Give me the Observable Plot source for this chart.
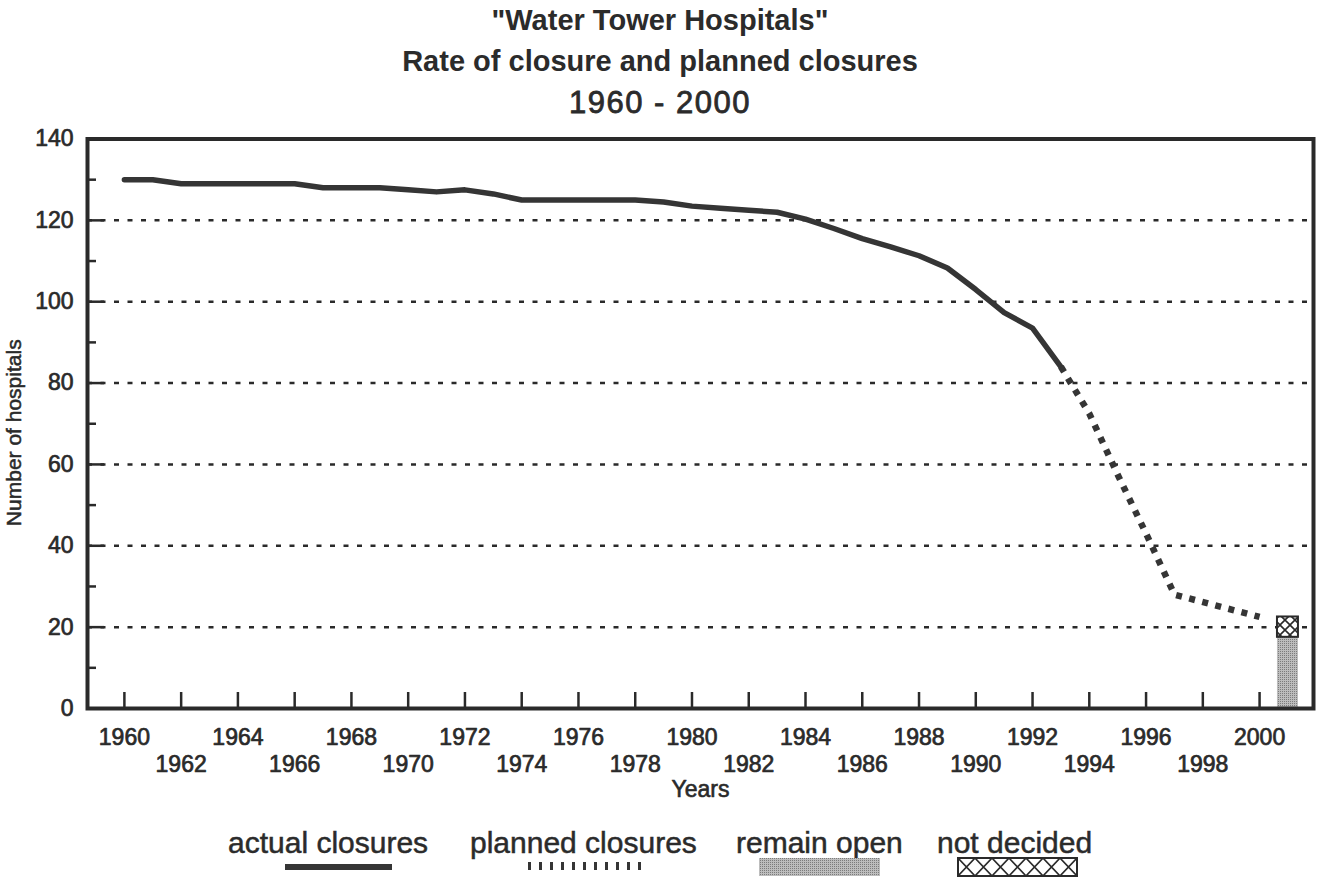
<!DOCTYPE html>
<html>
<head>
<meta charset="utf-8">
<script src="https://cdn.jsdelivr.net/npm/d3@7"></script>
<script src="https://cdn.jsdelivr.net/npm/@observablehq/plot@0.6"></script>
<style>
  html, body { margin: 0; padding: 0; background: #fff; }
  body { width: 1328px; height: 882px; position: relative; overflow: hidden;
         font-family: "Liberation Sans", Arial, Helvetica, sans-serif; color: #2b2b2b; }
  .title { position: absolute; left: -4px; width: 1328px; text-align: center; line-height: 1; white-space: nowrap; }
  #chart { position: absolute; left: 0; top: 125px; }
  .lg { position: absolute; font-size: 30px; line-height: 1; white-space: nowrap; top: 828px; -webkit-text-stroke: 0.5px #2b2b2b; }
  #swatches { position: absolute; left: 0; top: 850px; }
</style>
</head>
<body>
<div id="t1" class="title" style="top:6px;font-size:29px;font-weight:bold;"></div>
<div id="t2" class="title" style="top:47px;font-size:29px;font-weight:bold;"></div>
<div id="t3" class="title" style="top:87px;font-size:31px;letter-spacing:1.5px;-webkit-text-stroke:0.8px #2b2b2b;"></div>
<div id="chart"></div>
<div id="legend"></div>
<script>
// ---- text ----
const titleLines = ['"Water Tower Hospitals"', "Rate of closure and planned closures", "1960 - 2000"];
const xLabel = "Years";
const yLabel = "Number of hospitals";
const legendLabels = ["actual closures", "planned closures", "remain open", "not decided"];

// ---- data ----
const actualYears = [1960, 1961, 1962, 1963, 1964, 1965, 1966, 1967, 1968, 1969,
                     1970, 1971, 1972, 1973, 1974, 1975, 1976, 1977, 1978, 1979,
                     1980, 1981, 1982, 1983, 1984, 1985, 1986, 1987, 1988, 1989,
                     1990, 1991, 1992, 1993];
const actualCount = [130, 130, 129, 129, 129, 129, 129, 128, 128, 128,
                     127.5, 127, 127.5, 126.5, 125, 125, 125, 125, 125, 124.5,
                     123.5, 123, 122.5, 122, 120.3, 118, 115.5, 113.5, 111.3, 108.3,
                     103, 97.3, 93.5, 84];
const plannedYears = [1993, 1994, 1995, 1996, 1997, 2000];
const plannedCount = [84, 72.5, 57.5, 43, 28, 22.5];
const barYears = [2001];
const remainOpen = [17.5];
const notDecided = [5];

// ---- ticks ----
const yTicks = [0, 20, 40, 60, 80, 100, 120, 140];
const yMinorTicks = [10, 30, 50, 70, 90, 110, 130];
const gridTicks = [20, 40, 60, 80, 100, 120];
const xTicks = [1960, 1962, 1964, 1966, 1968, 1970, 1972, 1974, 1976, 1978, 1980,
                1982, 1984, 1986, 1988, 1990, 1992, 1994, 1996, 1998, 2000];
const xLabelsRow1 = [1960, 1964, 1968, 1972, 1976, 1980, 1984, 1988, 1992, 1996, 2000];
const xLabelsRow2 = [1962, 1966, 1970, 1974, 1978, 1982, 1986, 1990, 1994, 1998];

// ---- tables ----
const actual = actualYears.map((year, i) => ({year, count: actualCount[i]}));
const planned = plannedYears.map((year, i) => ({year, count: plannedCount[i]}));
const bars = barYears.map((year, i) => ({year, open: remainOpen[i], undecided: notDecided[i]}));

document.getElementById("t1").textContent = titleLines[0];
document.getElementById("t2").textContent = titleLines[1];
document.getElementById("t3").textContent = titleLines[2];

const ink = "#2a2a2a";
const lineInk = "#353535";
const barHalf = 0.5;
const tickText = {fill: ink, textStroke: ink, textStrokeWidth: 0.7, fontSize: 23};

const chart = Plot.plot({
  width: 1328,
  height: 685,
  marginTop: 13.5,
  marginBottom: 102,
  marginLeft: 87,
  marginRight: 15,
  x: {domain: [1958.7, 2001.9]},
  y: {domain: [0, 140]},
  style: {fontFamily: '"Liberation Sans", Arial, Helvetica, sans-serif', fontSize: "23px", color: ink, background: "transparent", overflow: "visible"},
  marks: [
    Plot.gridY(gridTicks, {stroke: ink, strokeOpacity: 1, strokeWidth: 2.5, strokeDasharray: "5 8.5"}),
    Plot.rect(bars, {x1: d => d.year - barHalf, x2: d => d.year + barHalf, insetLeft: 3.7, insetRight: 3.7,
                     y1: 0, y2: "open", fill: "url(#stipple)"}),
    Plot.rect(bars, {x1: d => d.year - barHalf, x2: d => d.year + barHalf, insetLeft: 3.7, insetRight: 3.7,
                     y1: "open", y2: d => d.open + d.undecided, fill: "url(#hatch)", stroke: ink, strokeWidth: 2}),
    Plot.line(actual, {x: "year", y: "count", stroke: lineInk, strokeWidth: 5.5, strokeLinejoin: "round"}),
    Plot.line(planned, {x: "year", y: "count", stroke: lineInk, strokeWidth: 6.5, strokeDasharray: "6 7.5", strokeLinecap: "butt"}),
    Plot.frame({stroke: ink, strokeWidth: 4}),
    Plot.axisX({ticks: xTicks, tickSize: 16, dy: -16, fill: "none", stroke: ink, strokeWidth: 2.5}),
    Plot.axisX({ticks: xLabelsRow1, tickSize: 0, tickPadding: 20, tickFormat: d => String(d), label: null, ...tickText}),
    Plot.axisX({ticks: xLabelsRow2, tickSize: 0, tickPadding: 47, tickFormat: d => String(d), label: null, ...tickText}),
    Plot.axisY({ticks: yTicks, tickSize: 17, dx: 17, fill: "none", stroke: ink, strokeWidth: 2.5}),
    Plot.axisY({ticks: yMinorTicks, tickSize: 9, dx: 9, fill: "none", stroke: ink, strokeWidth: 2.5}),
    Plot.axisY({ticks: yTicks, tickSize: 0, tickPadding: 14, tickFormat: d => String(d), label: null, ...tickText}),
    Plot.text([xLabel], {frameAnchor: "bottom", lineAnchor: "middle", textAnchor: "middle", dy: 81, fontSize: 23,
                         fill: ink, stroke: ink, strokeWidth: 0.6}),
    Plot.text([yLabel], {frameAnchor: "left", textAnchor: "middle", lineAnchor: "middle", rotate: -90, dx: -73, dy: 9,
                         fontSize: 21, fill: ink, stroke: ink, strokeWidth: 0.5})
  ]
});

// patterns for the stacked bar
const defs = d3.select(chart).insert("defs", ":first-child");
const st = defs.append("pattern").attr("id", "stipple").attr("patternUnits", "userSpaceOnUse")
  .attr("width", 2).attr("height", 2);
st.append("rect").attr("width", 2).attr("height", 2).attr("fill", "#bdbdbd");
st.append("rect").attr("width", 1).attr("height", 1).attr("fill", "#7c7c7c");
const hatchRect = d3.select(chart).selectAll("rect").filter(function() { return this.getAttribute("fill") === "url(#hatch)"; }).node();
let hx = 0, hy = 0, hw = 10, hh = 10;
if (hatchRect) {
  hx = +hatchRect.getAttribute("x"); hy = +hatchRect.getAttribute("y");
  hw = +hatchRect.getAttribute("width") / 2; hh = +hatchRect.getAttribute("height") / 2;
}
const ht = defs.append("pattern").attr("id", "hatch").attr("patternUnits", "userSpaceOnUse")
  .attr("x", hx).attr("y", hy).attr("width", hw).attr("height", hh);
ht.append("rect").attr("width", hw).attr("height", hh).attr("fill", "#fff");
ht.append("path").attr("d", `M0,0L${hw},${hh}M${hw},0L0,${hh}`).attr("stroke", ink).attr("stroke-width", 1.6);

document.getElementById("chart").appendChild(chart);

// ---- legend ----
const legendText = [228, 470, 736, 937];
const legend = document.getElementById("legend");
legendLabels.forEach((t, i) => {
  const s = document.createElement("span");
  s.className = "lg";
  s.style.left = legendText[i] + "px";
  s.textContent = t;
  legend.appendChild(s);
});
const sw = d3.select(legend).append("svg").attr("id", "swatches").attr("width", 1328).attr("height", 32);
const sdefs = sw.append("defs");
const st2 = sdefs.append("pattern").attr("id", "stipple2").attr("patternUnits", "userSpaceOnUse").attr("width", 2).attr("height", 2);
st2.append("rect").attr("width", 2).attr("height", 2).attr("fill", "#bdbdbd");
st2.append("rect").attr("width", 1).attr("height", 1).attr("fill", "#7c7c7c");
const ht2 = sdefs.append("pattern").attr("id", "hatch2").attr("patternUnits", "userSpaceOnUse")
  .attr("x", 958).attr("y", 8).attr("width", 17).attr("height", 18);
ht2.append("rect").attr("width", 17).attr("height", 18).attr("fill", "#fff");
ht2.append("path").attr("d", "M0,0L17,18M17,0L0,18").attr("stroke", ink).attr("stroke-width", 1.6);
sw.append("line").attr("x1", 285).attr("x2", 392).attr("y1", 17).attr("y2", 17)
  .attr("stroke", lineInk).attr("stroke-width", 6);
sw.append("line").attr("x1", 528).attr("x2", 646).attr("y1", 16).attr("y2", 16)
  .attr("stroke", lineInk).attr("stroke-width", 8).attr("stroke-dasharray", "3 8");
sw.append("rect").attr("x", 759).attr("y", 8).attr("width", 121).attr("height", 18).attr("fill", "url(#stipple2)");
sw.append("rect").attr("x", 958).attr("y", 8).attr("width", 119).attr("height", 18)
  .attr("fill", "url(#hatch2)").attr("stroke", ink).attr("stroke-width", 2);
</script>
</body>
</html>
